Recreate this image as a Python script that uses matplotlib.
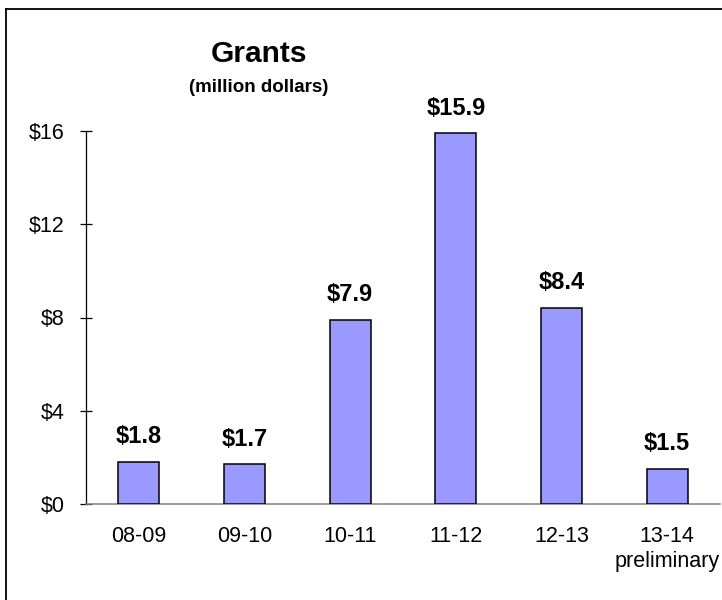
import matplotlib
matplotlib.use("Agg")
import matplotlib.pyplot as plt
from matplotlib.lines import Line2D

categories = ["08-09", "09-10", "10-11", "11-12", "12-13", "13-14\npreliminary"]
values = [1.8, 1.7, 7.9, 15.9, 8.4, 1.5]
value_labels = ["$1.8", "$1.7", "$7.9", "$15.9", "$8.4", "$1.5"]
y_ticks = [0, 4, 8, 12, 16]
y_tick_labels = ["$0", "$4", "$8", "$12", "$16"]
title = "Grants"
subtitle = "(million dollars)"

plt.rcParams['font.family'] = ['Liberation Sans', 'DejaVu Sans']

fig = plt.figure(figsize=(7.22, 6.0), dpi=100)
ax = fig.add_axes([86/722, 1 - 504/600, (720 - 86)/722, (504 - 131)/600])

x = list(range(len(categories)))
ax.bar(x, values, width=0.39, color='#9999FF', edgecolor='black', linewidth=1.1, zorder=3)

for xi, v, lab in zip(x, values, value_labels):
    ax.annotate(lab, (xi, v), xytext=(0, 13.5), textcoords='offset points',
                ha='center', va='baseline', fontsize=17, fontweight='bold')

ax.set_xlim(-0.5, len(categories) - 0.5)
ax.set_ylim(0, 16)
ax.set_yticks(y_ticks)
ax.set_yticklabels(y_tick_labels, fontsize=15.5)
ax.set_xticks(x)
ax.set_xticklabels(categories, fontsize=15.5, linespacing=1.25)

for s in ['top', 'right']:
    ax.spines[s].set_visible(False)
ax.spines['left'].set_color('black')
ax.spines['left'].set_linewidth(0.9)
ax.spines['bottom'].set_color('#808080')
ax.spines['bottom'].set_linewidth(1.1)

ax.tick_params(axis='y', direction='inout', length=8.6, width=0.9, pad=11)
ax.tick_params(axis='x', length=0, pad=16)

fig.text(259/722, 1 - 62/600, title, ha='center', va='baseline', fontsize=21.5, fontweight='bold')
fig.text(259/722, 1 - 92/600, subtitle, ha='center', va='baseline', fontsize=13.5, fontweight='bold')

bx = 6/722
by = 1 - 9/600
fig.add_artist(Line2D([bx, 1.0], [by, by], transform=fig.transFigure, color='black', linewidth=1.3))
fig.add_artist(Line2D([bx, bx], [0.0, by], transform=fig.transFigure, color='black', linewidth=1.3))

fig.savefig("out.png", dpi=100)
